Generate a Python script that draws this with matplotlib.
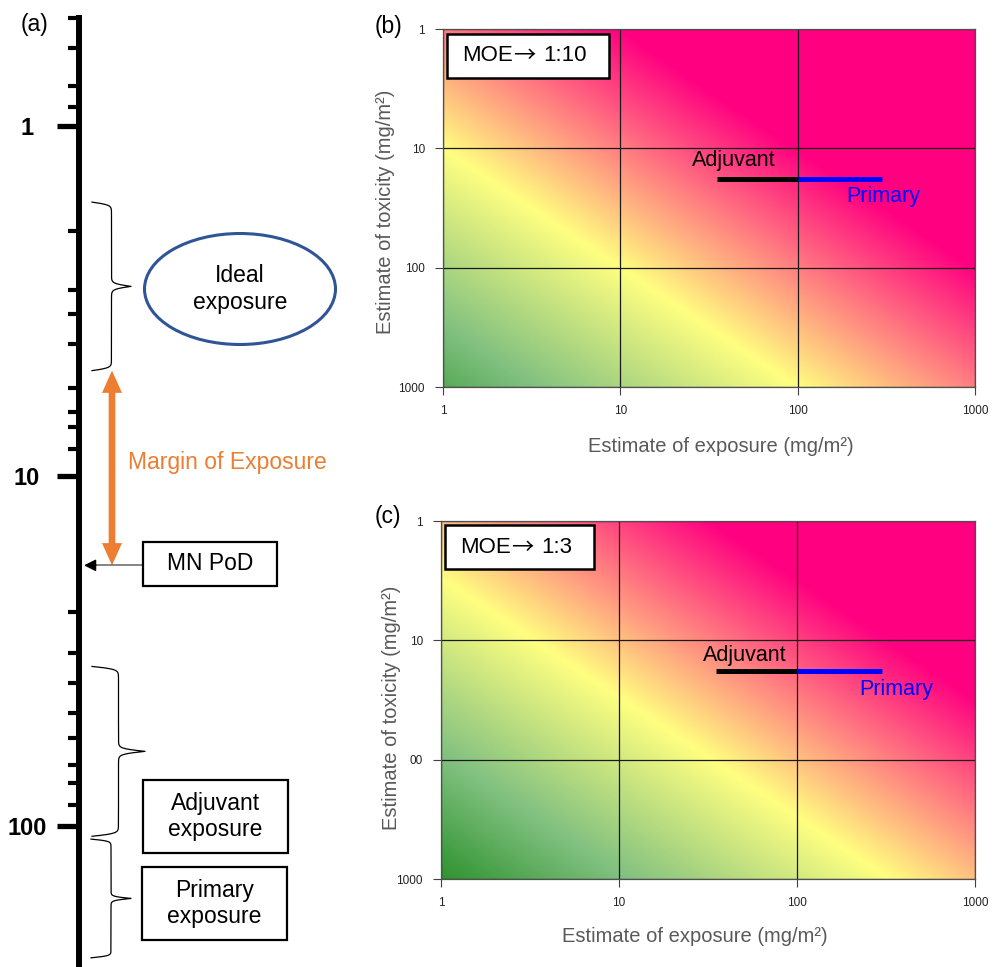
import numpy as np
import matplotlib
matplotlib.use("Agg")
import matplotlib.pyplot as plt
from matplotlib.colors import LinearSegmentedColormap, Normalize
from matplotlib.patches import Rectangle, Ellipse, FancyArrowPatch
from matplotlib.ticker import NullFormatter

plt.rcParams['font.family'] = ['Liberation Sans', 'DejaVu Sans']

# panel (a): dose scale in mg/m2, values increase downwards
major_ticks = [1, 10, 100]
major_labels = ['1', '10', '100']
minor_ticks = [0.49, 0.6, 0.77, 0.88, 2.0, 2.95, 3.45, 4.2, 5.6, 6.55, 7.25, 8.4,
               24.5, 32, 39, 47.5, 56, 67, 75.5, 87]
ideal_exposure = [1.65, 5.0]
adjuvant_brace = [35, 107]
primary_brace = [109, 238]
mn_pod = 18

# panels (b) and (c)
decades = [1, 10, 100, 1000]
moe_ratios = [10, 3]
moe_labels = ['1:10', '1:3']
xtick_labels = ['1', '10', '100', '1000']
ytick_labels = [['1', '10', '100', '1000'], ['1', '10', '00', '1000']]
adjuvant_exposure = [35, 100]
primary_exposure = [100, 300]
toxicity = 18
adjuvant_label_pos = [(43.5, 12.6), (51, 13.4)]
primary_label_pos = [(302, 25.3), (360, 25.8)]

W, H = 993, 967
fig = plt.figure(figsize=(W / 100, H / 100), dpi=100)


def brace(ax, lo, hi, x_end, x_tip, beta=120, n=200):
    t = np.linspace(0, 0.5, n)
    h = 1 / (1 + np.exp(-beta * (t - t[0]))) + 1 / (1 + np.exp(-beta * (t - t[-1])))
    h = (h - h[0]) / (h[-1] - h[0])
    xs = x_end + h * (x_tip - x_end)
    xs = np.concatenate([xs, xs[::-1]])
    ts = np.concatenate([t, t + 0.5])
    la, lb = np.log10(lo), np.log10(hi)
    ax.plot(xs, 10 ** (la + ts * (lb - la)), color='black', lw=0.9)


# ---------------- panel (a)
ax_a = fig.add_axes([0, 0, 370 / W, 1])
ax_a.set_xlim(0, 370)
ax_a.set_yscale('log')
ax_a.set_ylim(10 ** ((H - 126) / 350), 10 ** (-126 / 350))
ax_a.patch.set_visible(False)
for s in ['top', 'right', 'bottom']:
    ax_a.spines[s].set_visible(False)
ax_a.spines['left'].set_position(('data', 79))
ax_a.spines['left'].set_linewidth(4.3)
ax_a.spines['left'].set_bounds(minor_ticks[0], 10 ** ((H - 126) / 350))
ax_a.set_xticks([])
ax_a.set_yticks(major_ticks)
ax_a.set_yticklabels(major_labels, fontweight='bold', fontsize=17)
ax_a.set_yticks(minor_ticks, minor=True)
ax_a.yaxis.set_minor_formatter(NullFormatter())
ax_a.tick_params(axis='y', which='major', length=15.5, width=3.8, pad=22)
ax_a.tick_params(axis='y', which='minor', length=8, width=3)
for lab in ax_a.get_yticklabels():
    lab.set_ha('center')

brace(ax_a, ideal_exposure[0], ideal_exposure[1], 92, 131)
brace(ax_a, adjuvant_brace[0], adjuvant_brace[1], 92, 145)
brace(ax_a, primary_brace[0], primary_brace[1], 91, 131)

# MN PoD pointer
ax_a.plot([95, 143], [mn_pod, mn_pod], color='#707070', lw=1.2)
ax_a.annotate('', xy=(84, mn_pod), xytext=(96, mn_pod),
              arrowprops=dict(arrowstyle='-|>', color='black', lw=1.0,
                              mutation_scale=18, shrinkA=0, shrinkB=0))

# margin of exposure double arrow
mid = np.sqrt(ideal_exposure[1] * mn_pod)
for end in [ideal_exposure[1], mn_pod]:
    ax_a.add_patch(FancyArrowPatch((112, mid), (112, end),
                                   arrowstyle='simple,head_length=0.8,head_width=0.72,tail_width=0.24',
                                   mutation_scale=20, fc='#ED7D31', ec='none', lw=0,
                                   shrinkA=0, shrinkB=0))

# layout overlay in pixel coordinates
lay = fig.add_axes([0, 0, 1, 1])
lay.set_xlim(0, W)
lay.set_ylim(H, 0)
lay.axis('off')
lay.patch.set_visible(False)

lay.text(34, 25, '(a)', fontsize=16.5, ha='center', va='center')
lay.text(389, 26, '(b)', fontsize=16.5, ha='center', va='center')
lay.text(388, 517, '(c)', fontsize=16.5, ha='center', va='center')

lay.add_patch(Ellipse((240, 289), 191, 111, fill=False, ec='#2F5597', lw=2.2))
lay.text(240, 289, 'Ideal\nexposure', fontsize=16.5, ha='center', va='center', linespacing=1.2)
lay.text(128, 463, 'Margin of Exposure', fontsize=16.5, color='#ED7D31', ha='left', va='center')

boxes = [((143, 542, 277, 586), 'MN PoD'),
         ((143, 780, 288, 853), 'Adjuvant\nexposure'),
         ((142, 867, 287, 940), 'Primary\nexposure')]
for (x0, y0, x1, y1), txt in boxes:
    lay.add_patch(Rectangle((x0, y0), x1 - x0, y1 - y0, fc='white', ec='black', lw=1.6))
    lay.text((x0 + x1) / 2, (y0 + y1) / 2, txt, fontsize=16.5, ha='center', va='center',
             linespacing=1.15)

# ---------------- panels (b) and (c)
cmap = LinearSegmentedColormap.from_list(
    'moe', [(0, '#FF0080'), (2 / 4.7, '#FFFF80'), (3.5 / 4.7, '#80C080'), (1, '#228B22')])
norm = Normalize(-2, 2.7)
grid = np.logspace(0, 3, 241)
X, Y = np.meshgrid(grid, grid)

rects = [[443 / W, 1 - 387 / H, 532 / W, 358 / H],
         [441 / W, 1 - 879 / H, 534 / W, 358 / H]]
moe_box = [(0.0075, 0.863, 0.3045, 0.123, 0.036, 0.925),
           (0.0075, 0.866, 0.279, 0.123, 0.036, 0.927)]
xlabel_xy = [(0.523, -0.14), (0.476, -0.134)]
ylabel_xy = [(-0.090, 0.489), (-0.075, 0.478)]

for i in range(2):
    ax = fig.add_axes(rects[i])
    D = np.log10(Y) - np.log10(X) - np.log10(moe_ratios[i])
    ax.pcolormesh(X, Y, D, cmap=cmap, norm=norm, shading='gouraud', rasterized=True)
    ax.set_xscale('log')
    ax.set_yscale('log')
    ax.set_xlim(1, 1000)
    ax.set_ylim(1000, 1)
    ax.set_xticks(decades)
    ax.set_xticklabels(xtick_labels)
    ax.set_yticks(decades)
    ax.set_yticklabels(ytick_labels[i])
    ax.minorticks_off()
    ax.grid(True, which='major', color='#1a1a1a', lw=0.9)
    ax.tick_params(length=6, width=0.8, color='#404040', labelsize=8.5,
                   labelcolor='#222222', pad=7)
    for s in ax.spines.values():
        s.set_color('#505050')
        s.set_linewidth(0.9)

    ax.plot(adjuvant_exposure, [toxicity, toxicity], color='black', lw=3.6,
            solid_capstyle='butt', zorder=4)
    ax.plot(primary_exposure, [toxicity, toxicity], color='#0000FF', lw=3.6,
            solid_capstyle='butt', zorder=4)
    ax.text(*adjuvant_label_pos[i], 'Adjuvant', fontsize=15.5, color='black',
            ha='center', va='center', zorder=5)
    ax.text(*primary_label_pos[i], 'Primary', fontsize=15.5, color='#0000FF',
            ha='center', va='center', zorder=5)

    bx, by, bw, bh, tx, ty = moe_box[i]
    ax.add_patch(Rectangle((bx, by), bw, bh, transform=ax.transAxes, fc='white',
                           ec='black', lw=1.8, zorder=6))
    t1 = ax.text(tx, ty, 'MOE', transform=ax.transAxes, fontsize=16,
                 ha='left', va='center', zorder=7)
    t2 = ax.annotate('\u2192', xy=(1, 0.5), xycoords=t1, xytext=(0, 0),
                     textcoords='offset points', fontsize=16,
                     family=['Noto Sans CJK JP', 'DejaVu Sans'],
                     ha='left', va='center', zorder=7)
    ax.annotate(moe_labels[i], xy=(1, 0.5), xycoords=t2, xytext=(6, 0),
                textcoords='offset points', fontsize=16, ha='left', va='center', zorder=7)

    ax.set_xlabel('Estimate of exposure (mg/m\u00b2)', fontsize=14.5, color='#595959')
    ax.set_ylabel('Estimate of toxicity (mg/m\u00b2)', fontsize=14.5, color='#595959')
    ax.xaxis.set_label_coords(*xlabel_xy[i])
    ax.yaxis.set_label_coords(*ylabel_xy[i])

fig.savefig('out.png', dpi=100, facecolor='white')
